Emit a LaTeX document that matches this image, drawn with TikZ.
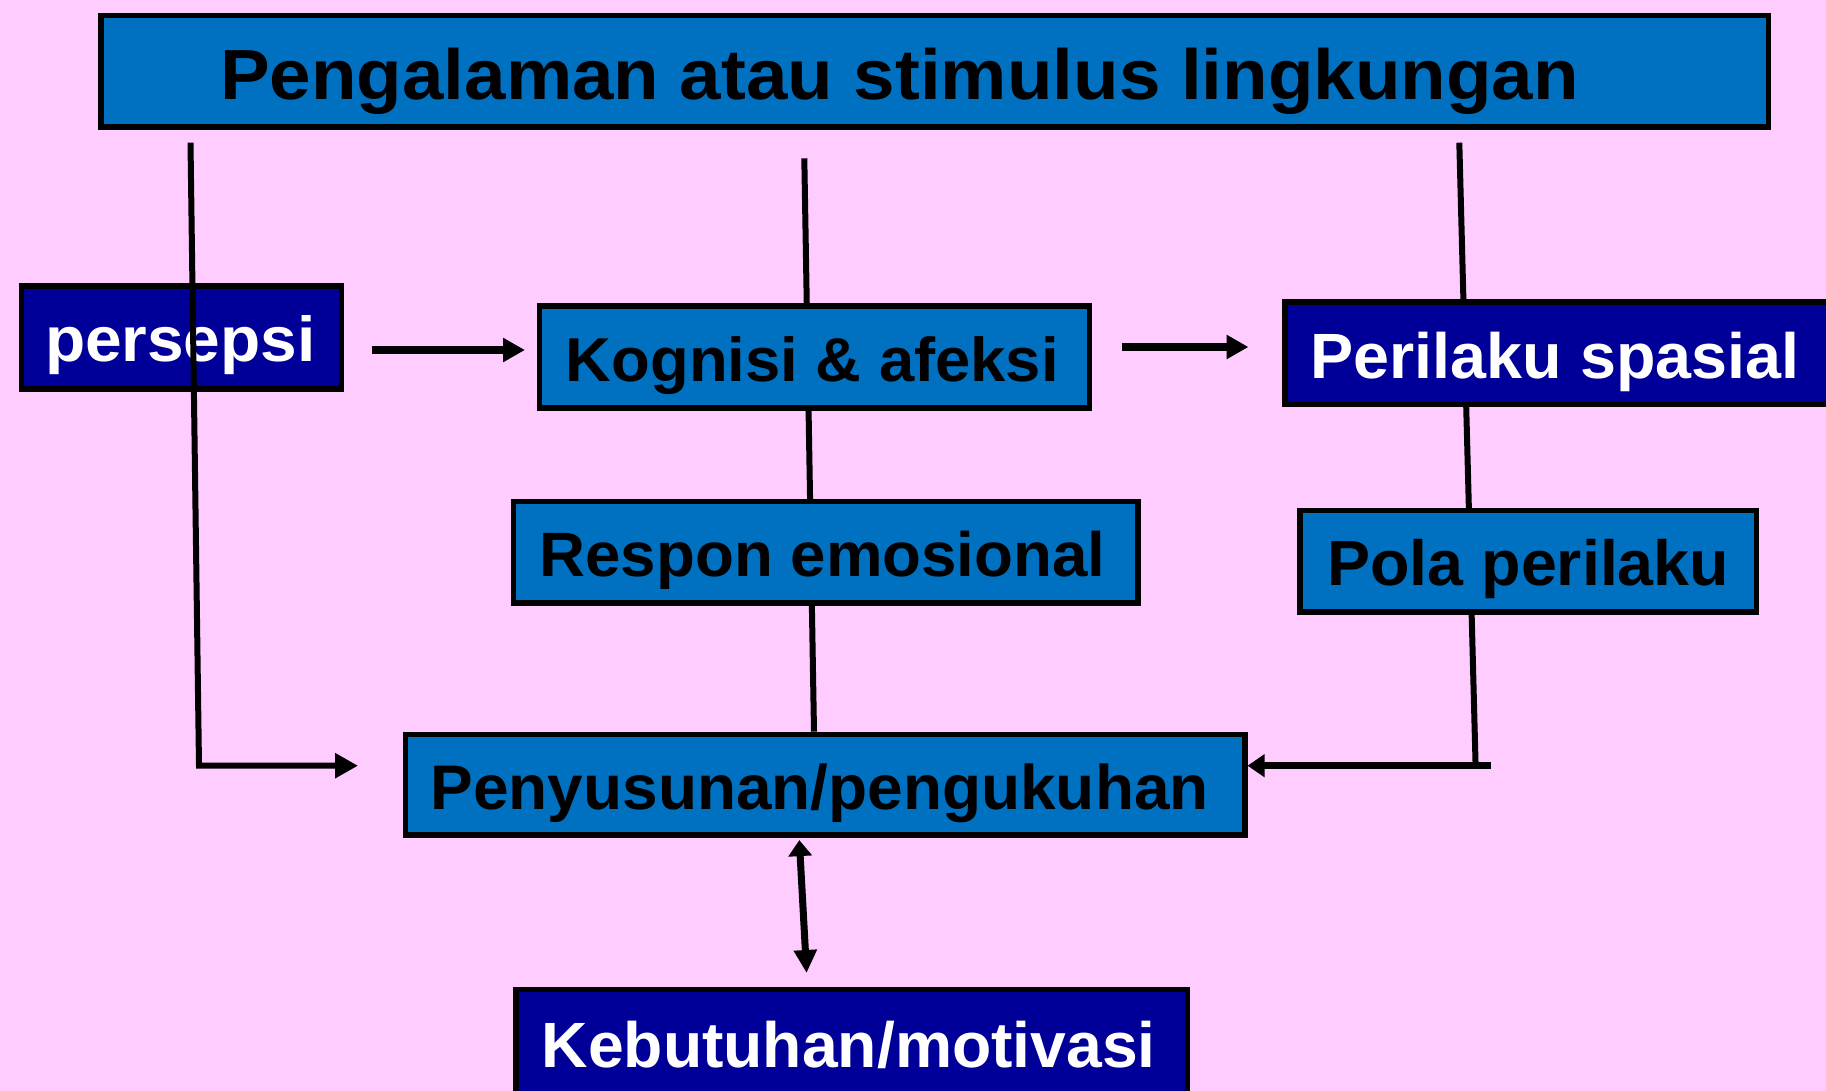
\documentclass[tikz,border=0pt]{standalone}
\usepackage{fontspec}
\usepackage{graphicx}
\setmainfont{Liberation Sans}
\usetikzlibrary{arrows.meta,calc}
\definecolor{bgpink}{RGB}{255,204,255}
\definecolor{boxblue}{RGB}{0,112,192}
\definecolor{boxnavy}{RGB}{0,0,153}
\pgfdeclarelayer{bg}
\pgfsetlayers{bg,main}
\begin{document}
\begin{tikzpicture}[x=1pt,y=-1pt,
  box/.style={draw=black, line width=5.5pt, inner sep=0pt, text depth=0pt},
  lightbox/.style={box, fill=boxblue, text=black},
  darkbox/.style={box, fill=boxnavy, text=white},
  conn/.style={line width=6pt},
  arr/.style={line width=8pt, -{Triangle[length=22pt,width=23pt]}},
]
\useasboundingbox (0,0) rectangle (1826,1091);
\clip (0,0) rectangle (1826,1091);

% boxes
\node[lightbox, minimum width=1667.5pt, minimum height=111.8pt, text height=55.9pt,
  font=\bfseries\fontsize{71}{71}\selectfont] (env) at (934.5,71.35)
  {\hspace*{-70pt}\scalebox{1.05}[1]{Pengalaman atau stimulus lingkungan}};
\node[darkbox, minimum width=319.9pt, minimum height=102.9pt, text height=47pt,
  font=\bfseries\fontsize{63.5}{63.5}\selectfont] (pers) at (181.3,337.5)
  {\hspace*{-2pt}\scalebox{1.036}[1]{persepsi}};
\node[lightbox, minimum width=549.8pt, minimum height=101.7pt, text height=47.8pt,
  font=\bfseries\fontsize{62}{62}\selectfont] (kog) at (814.35,357.1)
  {\hspace*{-4pt}\scalebox{1.022}[1]{Kognisi \& afeksi}};
\node[darkbox, minimum width=552.5pt, minimum height=102.5pt, text height=50pt,
  font=\bfseries\fontsize{64}{64}\selectfont] (peri) at (1561,353.3)
  {\hspace*{-12pt}\scalebox{1.01}[1]{Perilaku spasial}};
\node[lightbox, minimum width=624.6pt, minimum height=101.5pt, text height=49.4pt,
  font=\bfseries\fontsize{62.7}{62.7}\selectfont] (resp) at (825.55,552)
  {\hspace*{-6pt}\scalebox{1.015}[1]{Respon emosional}};
\node[lightbox, minimum width=456.5pt, minimum height=101.6pt, text height=48.9pt,
  font=\bfseries\fontsize{63.8}{63.8}\selectfont] (pola) at (1528.3,561.25)
  {\scalebox{1.012}[1]{Pola perilaku}};
\node[lightbox, minimum width=839.3pt, minimum height=100.6pt, text height=49pt,
  font=\bfseries\fontsize{63}{63}\selectfont] (pen) at (825.1,784.75)
  {\hspace*{-11pt}\scalebox{1.015}[1]{Penyusunan/pengukuhan}};
\node[darkbox, minimum width=671.1pt, minimum height=122.8pt, text height=32.9pt,
  font=\bfseries\fontsize{64}{64}\selectfont] (keb) at (851.7,1050.85)
  {\hspace*{-6pt}\scalebox{1.004}[1]{Kebutuhan/motivasi}};

% free ends
\coordinate (ltop) at (190.5,142.7);
\coordinate (lcorner) at (199,765.7);
\coordinate (ltip) at (358,765.7);
\coordinate (mtop) at (804.3,158.3);
\coordinate (rtop) at (1459.3,142.7);
\coordinate (rcorner) at (1475.6,765.7);
\coordinate (rend) at (1491,765.7);
\coordinate (a1s) at (372,350);
\coordinate (a1e) at (525,350);
\coordinate (a2s) at (1121.5,347);
\coordinate (a2e) at (1248.5,347);
\coordinate (dbot) at (806.6,973);

\begin{pgfonlayer}{bg}
  \fill[bgpink] (0,0) rectangle (1826,1091);
  \draw[conn] (mtop) -- ($(pen.north)+(-11.1,0)$);
  \draw[conn] (rtop) -- (rcorner);
\end{pgfonlayer}

% connectors on top
\draw[conn, -{Triangle[length=23pt,width=24pt]}] (ltop) -- (lcorner) -- (ltip);
\draw[line width=6.6pt, -{Triangle[length=17pt,width=22pt]}] (rend) -- ($(pen.east)+(0,-19.05)$);
\draw[arr] (a1s) -- (a1e);
\draw[arr] (a2s) -- (a2e);
\draw[line width=7pt, {Triangle[length=16pt,width=23pt]}-{Triangle[length=23pt,width=22pt]}]
  ($(pen.south)+(-25.8,2.3)$) -- (dbot);
\end{tikzpicture}
\end{document}
